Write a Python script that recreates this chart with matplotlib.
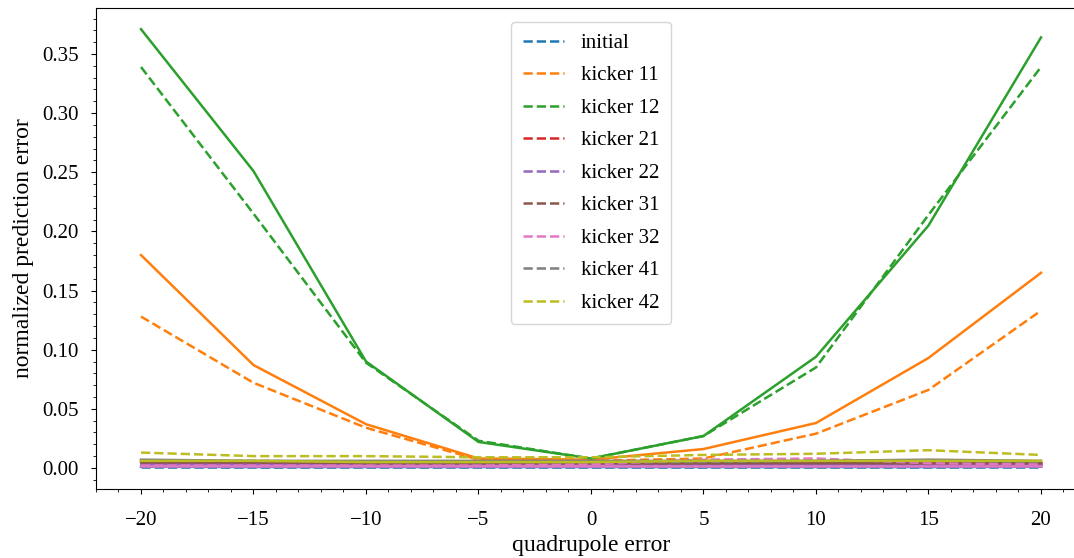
import matplotlib
matplotlib.use("Agg")
import matplotlib.pyplot as plt
from matplotlib.ticker import MultipleLocator

plt.rcParams['font.family'] = ['Liberation Serif', 'DejaVu Serif']
plt.rcParams['mathtext.fontset'] = 'stix'

x = [-20, -15, -10, -5, 0, 5, 10, 15, 20]
labels = ["initial", "kicker 11", "kicker 12", "kicker 21", "kicker 22",
          "kicker 31", "kicker 32", "kicker 41", "kicker 42"]

solid_initial = [0.001, 0.0008, 0.0008, 0.0008, 0.0008, 0.0008, 0.0008, 0.0008, 0.001]
solid_k11 = [0.180, 0.087, 0.037, 0.008, 0.007, 0.016, 0.038, 0.093, 0.165]
solid_k12 = [0.371, 0.251, 0.090, 0.022, 0.008, 0.027, 0.094, 0.205, 0.364]
solid_k21 = [0.004, 0.004, 0.004, 0.004, 0.004, 0.004, 0.004, 0.004, 0.004]
solid_k22 = [0.003, 0.003, 0.003, 0.003, 0.003, 0.003, 0.003, 0.003, 0.003]
solid_k31 = [0.005, 0.005, 0.004, 0.004, 0.004, 0.004, 0.004, 0.004, 0.004]
solid_k32 = [0.002, 0.002, 0.002, 0.002, 0.002, 0.002, 0.002, 0.002, 0.002]
solid_k41 = [0.007, 0.006, 0.006, 0.006, 0.006, 0.006, 0.006, 0.007, 0.006]
solid_k42 = [0.006, 0.006, 0.005, 0.005, 0.005, 0.006, 0.006, 0.006, 0.006]

dashed_initial = [0.0005, 0.0005, 0.0005, 0.0005, 0.0005, 0.0005, 0.0005, 0.0005, 0.0005]
dashed_k11 = [0.128, 0.072, 0.034, 0.007, 0.006, 0.008, 0.029, 0.066, 0.133]
dashed_k12 = [0.339, 0.215, 0.089, 0.023, 0.008, 0.027, 0.085, 0.214, 0.339]
dashed_k21 = [0.003, 0.003, 0.003, 0.003, 0.003, 0.003, 0.004, 0.004, 0.003]
dashed_k22 = [0.003, 0.003, 0.003, 0.003, 0.003, 0.003, 0.003, 0.003, 0.003]
dashed_k31 = [0.0045, 0.0045, 0.004, 0.004, 0.004, 0.004, 0.005, 0.004, 0.004]
dashed_k32 = [0.002, 0.002, 0.002, 0.002, 0.003, 0.007, 0.008, 0.004, 0.003]
dashed_k41 = [0.006, 0.006, 0.005, 0.005, 0.005, 0.005, 0.006, 0.006, 0.005]
dashed_k42 = [0.013, 0.010, 0.010, 0.009, 0.009, 0.011, 0.012, 0.015, 0.011]

solids = [solid_initial, solid_k11, solid_k12, solid_k21, solid_k22,
          solid_k31, solid_k32, solid_k41, solid_k42]
dasheds = [dashed_initial, dashed_k11, dashed_k12, dashed_k21, dashed_k22,
           dashed_k31, dashed_k32, dashed_k41, dashed_k42]

colors = ['#1f77b4', '#ff7f0e', '#2ca02c', '#d62728', '#9467bd',
          '#8c564b', '#e377c2', '#7f7f7f', '#bcbd22']

fig = plt.figure(figsize=(10.74, 5.58), dpi=100)
ax = fig.add_axes([96/1074, 69/558, 990/1074, 481/558])

for s, d, c, lab in zip(solids, dasheds, colors, labels):
    ax.plot(x, s, color=c, lw=1.8)
    ax.plot(x, d, color=c, lw=1.8, ls='--', label=lab)

ax.spines['right'].set_visible(False)
ax.set_xlim(-22, 22)
ax.set_ylim(-0.0178, 0.3889)
ax.xaxis.set_major_locator(MultipleLocator(5))
ax.xaxis.set_minor_locator(MultipleLocator(1))
ax.yaxis.set_major_locator(MultipleLocator(0.05))
ax.yaxis.set_minor_locator(MultipleLocator(0.01))
ax.tick_params(axis='x', labelsize=15, pad=12)
ax.tick_params(axis='y', labelsize=15, pad=9)
ax.set_xlabel("quadrupole error", fontsize=17, labelpad=4)
ax.set_ylabel("normalized prediction error", fontsize=17, labelpad=6)

leg = ax.legend(loc='upper center', bbox_to_anchor=(0.5, 0.993), fontsize=15,
                handlelength=2.0, labelspacing=0.62, borderpad=0.55)
fig.savefig("out.png", dpi=100)
